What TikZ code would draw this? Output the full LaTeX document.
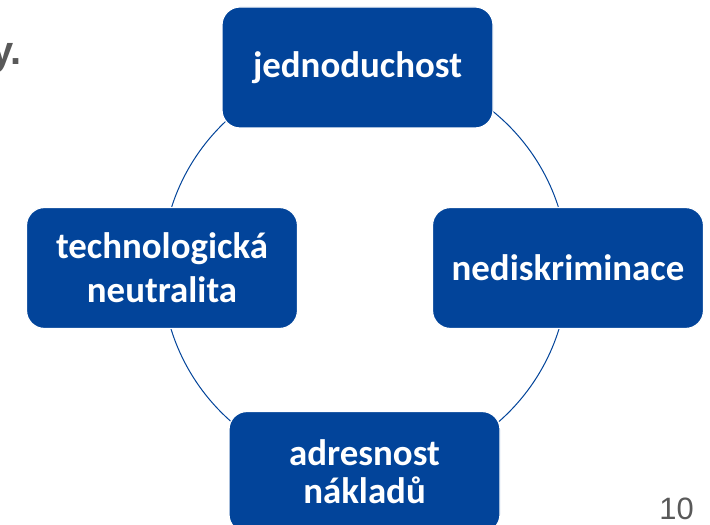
\documentclass[tikz,border=0pt]{standalone}
\usepackage{fontspec}
\setmainfont{Carlito}
\newfontfamily\slidefont{Liberation Sans}
\definecolor{BoxBlue}{HTML}{02449A}
\definecolor{SlideGray}{HTML}{595959}
\usetikzlibrary{positioning}

\tikzset{
  principle/.style={rectangle, rounded corners=18bp, fill=BoxBlue, draw=white,
    line width=1.2bp, minimum width=271bp, minimum height=121bp, inner sep=0pt,
    align=center, text=white, font=\bfseries\fontsize{37}{44}\selectfont},
  slidetext/.style={inner sep=0pt, text=SlideGray}
}

\begin{document}
\begin{tikzpicture}[x=1bp, y=-1bp]
  \clip (0,0) rectangle (710,525);
  \fill[white] (0,0) rectangle (710,525);
  % ring behind the four boxes
  \node[circle, draw=BoxBlue, line width=1bp, minimum size=406bp, inner sep=0pt]
    (ring) at (365,269) {};
  % the four principles
  \node[principle] (simple) at (357.5,67.5) {jednoduchost};
  \node[principle] (nondiscr) at (568,268) {nediskriminace};
  \node[principle] (neutral) at (162,268) {technologická\\neutralita};
  \node[principle, font=\bfseries\fontsize{37}{38}\selectfont]
    (costs) at (364.5,472) {adresnost\\nákladů};
  % slide leftovers
  \node[slidetext, anchor=base east, font=\slidefont\bfseries\fontsize{40}{40}\selectfont]
    (title) at (22,65) {y.};
  \node[slidetext, anchor=base east, font=\slidefont\fontsize{31}{31}\selectfont]
    (pagenum) at (694,519) {10};
\end{tikzpicture}
\end{document}
